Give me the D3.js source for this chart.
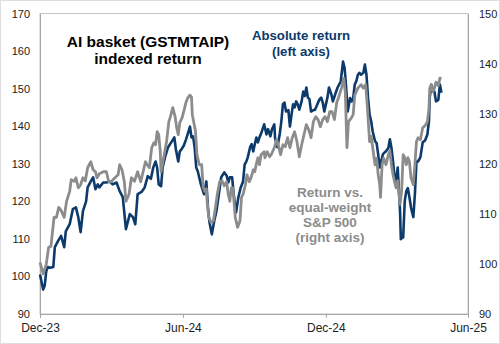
<!DOCTYPE html>
<html>
<head>
<meta charset="utf-8">
<script src="https://cdn.jsdelivr.net/npm/d3@7"></script>
<style>
  body { margin: 0; background: #fff; }
  svg { display: block; font-family: "Liberation Sans", Arial, sans-serif; }
</style>
</head>
<body>
<div id="chart"></div>
<script>
// absolute return of the AI basket, left axis
var absolute = [
  ["2023-12-01",100.5],["2023-12-03",98.5],["2023-12-05",96.5],["2023-12-07",97.5],["2023-12-09",101.4],
  ["2023-12-11",102.5],["2023-12-14",102.3],["2023-12-18",102.5],["2023-12-20",107.8],["2023-12-24",109.4],
  ["2023-12-28",110.8],["2024-01-01",107.8],["2024-01-03",112],["2024-01-08",113.9],["2024-01-12",117.9],
  ["2024-01-16",118.4],["2024-01-19",115.8],["2024-01-22",111.8],["2024-01-25",117.4],["2024-01-29",120],
  ["2024-01-31",123.7],["2024-02-04",125.3],["2024-02-07",126.4],["2024-02-10",123.2],["2024-02-13",124.5],
  ["2024-02-15",123.7],["2024-02-20",125],["2024-02-24",125],["2024-02-28",125.3],["2024-03-03",124.5],
  ["2024-03-08",125],["2024-03-12",122.7],["2024-03-16",121.1],["2024-03-20",112.6],["2024-03-25",116.6],
  ["2024-03-29",115.8],["2024-04-01",113.9],["2024-04-04",121.9],["2024-04-09",122.5],["2024-04-13",123.7],
  ["2024-04-17",126.7],["2024-04-21",126],["2024-04-24",129],["2024-04-27",130.6],["2024-04-29",129],
  ["2024-05-01",124.5],["2024-05-04",124],["2024-05-06",129],["2024-05-09",131.7],["2024-05-13",134.4],
  ["2024-05-17",135.7],["2024-05-21",137],["2024-05-23",133.8],["2024-05-26",130.6],["2024-05-28",133.3],
  ["2024-05-30",133.8],["2024-06-02",134.8],["2024-06-05",136.5],["2024-06-07",137.8],["2024-06-10",139.9],
  ["2024-06-12",137],["2024-06-14",137.3],["2024-06-16",134.4],["2024-06-18",129],["2024-06-20",128],
  ["2024-06-24",124.5],["2024-06-28",121.9],["2024-07-01",125.3],["2024-07-03",118.4],["2024-07-05",114.4],
  ["2024-07-08",111.2],["2024-07-11",114.7],["2024-07-14",117.5],["2024-07-17",121.9],["2024-07-20",126.4],
  ["2024-07-24",127.7],["2024-07-27",126.8],["2024-07-29",125],["2024-07-31",126.4],["2024-08-03",126.4],
  ["2024-08-05",121.9],["2024-08-08",117],["2024-08-11",121.1],["2024-08-14",123.7],["2024-08-17",125.3],
  ["2024-08-19",129.8],["2024-08-21",130.5],["2024-08-23",131.7],["2024-08-26",134.4],["2024-08-28",135.2],
  ["2024-08-30",133.3],["2024-09-01",135.2],["2024-09-03",137],["2024-09-05",135.7],["2024-09-07",137],
  ["2024-09-10",138.6],["2024-09-13",140.5],["2024-09-16",137.8],["2024-09-18",139.2],["2024-09-21",137.3],
  ["2024-09-23",139.2],["2024-09-26",140.5],["2024-09-27",136.8],["2024-09-30",134.4],["2024-10-03",138],
  ["2024-10-05",141.3],["2024-10-07",145.8],["2024-10-09",146.3],["2024-10-11",143.9],["2024-10-14",144.3],
  ["2024-10-16",139.9],["2024-10-18",143],["2024-10-20",145.8],["2024-10-22",145],["2024-10-24",146.6],
  ["2024-10-26",145.8],["2024-10-28",144.4],["2024-10-31",146.6],["2024-11-02",149.2],["2024-11-04",148],
  ["2024-11-06",150.3],["2024-11-08",147.6],["2024-11-10",147.2],["2024-11-12",143.9],["2024-11-15",144.3],
  ["2024-11-17",144.3],["2024-11-20",145.8],["2024-11-23",147.2],["2024-11-25",147.6],["2024-11-27",146.3],
  ["2024-11-29",143.9],["2024-12-03",147.6],["2024-12-05",150.3],["2024-12-08",148.5],["2024-12-10",146.6],
  ["2024-12-13",148.5],["2024-12-16",150.3],["2024-12-20",151.9],["2024-12-23",157.2],["2024-12-25",155.5],
  ["2024-12-27",150.3],["2024-12-29",143.9],["2025-01-01",147.5],["2025-01-03",146.6],["2025-01-05",147.5],
  ["2025-01-07",151.1],["2025-01-09",152],["2025-01-11",153.7],["2025-01-13",154.2],["2025-01-15",153.7],
  ["2025-01-18",154.2],["2025-01-20",156.4],["2025-01-22",153.7],["2025-01-24",147.6],["2025-01-26",143.1],
  ["2025-01-28",141.3],["2025-01-30",138.6],["2025-02-02",136],["2025-02-04",135.5],["2025-02-06",132.5],
  ["2025-02-08",129],["2025-02-10",130.8],["2025-02-12",132.5],["2025-02-14",133],["2025-02-16",133.3],
  ["2025-02-19",134.2],["2025-02-21",136.5],["2025-02-23",134.2],["2025-02-25",130.6],["2025-02-27",126.4],
  ["2025-03-01",125.5],["2025-03-03",129],["2025-03-06",117.4],["2025-03-07",109.9],["2025-03-09",110.4],
  ["2025-03-10",110.4],["2025-03-12",120],["2025-03-14",122.7],["2025-03-16",123.5],["2025-03-18",121.1],
  ["2025-03-20",118.4],["2025-03-23",115.8],["2025-03-25",121.9],["2025-03-27",130.6],["2025-03-29",130.6],
  ["2025-04-01",131.7],["2025-04-04",135.7],["2025-04-07",136.2],["2025-04-10",137.8],["2025-04-12",141.3],
  ["2025-04-13",147.6],["2025-04-15",151.1],["2025-04-17",149.2],["2025-04-19",149.2],["2025-04-21",146.6],
  ["2025-04-24",147],["2025-04-26",151.1],["2025-04-28",148.9]
]

// return vs equal-weight S&P 500, right axis
var relative = [
  ["2023-12-01",100.3],["2023-12-05",98],["2023-12-09",99.9],["2023-12-12",103.3],["2023-12-15",103.5],
  ["2023-12-19",109.3],["2023-12-22",109.3],["2023-12-25",111.3],["2023-12-28",110.7],["2024-01-01",109.3],
  ["2024-01-04",112.5],["2024-01-08",114.5],["2024-01-10",116.8],["2024-01-14",116.5],["2024-01-16",117.2],
  ["2024-01-19",115.2],["2024-01-22",115.8],["2024-01-25",117.2],["2024-01-28",116.6],["2024-01-31",119.2],
  ["2024-02-04",120.4],["2024-02-07",118.8],["2024-02-10",118.4],["2024-02-12",117.2],["2024-02-15",118],
  ["2024-02-20",118.4],["2024-02-24",118.4],["2024-02-27",116.4],["2024-03-01",116.4],["2024-03-06",117.2],
  ["2024-03-10",117.8],["2024-03-12",119.8],["2024-03-15",118.8],["2024-03-18",116.4],["2024-03-20",112.5],
  ["2024-03-24",113.9],["2024-03-27",117.2],["2024-03-31",116.5],["2024-04-04",118.4],["2024-04-08",116.4],
  ["2024-04-11",118.4],["2024-04-14",120.4],["2024-04-16",119.8],["2024-04-19",119.2],["2024-04-22",123.2],
  ["2024-04-25",124.2],["2024-04-27",123.8],["2024-04-29",126.4],["2024-05-01",125.8],["2024-05-03",122.4],
  ["2024-05-04",118.4],["2024-05-08",121.8],["2024-05-11",124.4],["2024-05-14",128.4],["2024-05-16",129.4],
  ["2024-05-19",131.2],["2024-05-22",129.4],["2024-05-24",127.2],["2024-05-26",125.8],["2024-05-28",128.2],
  ["2024-05-31",129.2],["2024-06-02",130.4],["2024-06-05",132.3],["2024-06-07",133.1],["2024-06-10",133.7],
  ["2024-06-12",133.3],["2024-06-13",129.8],["2024-06-15",128.2],["2024-06-17",126.6],["2024-06-19",121.8],
  ["2024-06-22",119.8],["2024-06-25",119.8],["2024-06-27",115.2],["2024-06-29",114.5],["2024-07-01",115],
  ["2024-07-02",112.5],["2024-07-04",109.3],["2024-07-07",108.3],["2024-07-10",108.6],["2024-07-12",110.5],
  ["2024-07-15",113.9],["2024-07-18",116.4],["2024-07-21",116.6],["2024-07-24",115.6],["2024-07-27",116.4],
  ["2024-07-29",113.9],["2024-07-31",112.5],["2024-08-02",115.2],["2024-08-04",115.2],["2024-08-07",109.3],
  ["2024-08-10",107.3],["2024-08-13",108.5],["2024-08-15",113.3],["2024-08-17",113.9],["2024-08-20",115.8],
  ["2024-08-22",117.8],["2024-08-25",116.4],["2024-08-27",117.1],["2024-08-30",118.8],["2024-09-01",118.4],
  ["2024-09-03",120],["2024-09-05",121.2],["2024-09-07",119.8],["2024-09-09",121.8],["2024-09-13",122.4],
  ["2024-09-14",121.2],["2024-09-17",122.4],["2024-09-20",121.4],["2024-09-22",121.8],["2024-09-26",123.2],
  ["2024-09-29",124.8],["2024-10-02",123.2],["2024-10-04",121.8],["2024-10-07",123.8],["2024-10-10",123.4],
  ["2024-10-13",125.2],["2024-10-16",123.2],["2024-10-19",125.2],["2024-10-22",126.4],["2024-10-25",124.4],
  ["2024-10-28",121.4],["2024-10-31",123.8],["2024-11-03",125.8],["2024-11-06",127.8],["2024-11-09",126.8],
  ["2024-11-12",125.2],["2024-11-15",128.4],["2024-11-18",129.4],["2024-11-21",128.8],["2024-11-24",127.4],
  ["2024-11-27",128.8],["2024-11-30",129.4],["2024-12-03",128.4],["2024-12-06",130.4],["2024-12-09",130.4],
  ["2024-12-12",128.8],["2024-12-15",132.3],["2024-12-17",133.1],["2024-12-21",135.1],["2024-12-24",137.1],
  ["2024-12-26",134],["2024-12-28",123.2],["2024-12-30",128.4],["2025-01-02",129],["2025-01-05",129.8],
  ["2025-01-07",133.7],["2025-01-09",134.4],["2025-01-11",135.1],["2025-01-15",135.8],["2025-01-18",135.1],
  ["2025-01-21",135.8],["2025-01-23",131.7],["2025-01-26",124.4],["2025-01-28",125.5],["2025-01-30",123.2],
  ["2025-02-02",119.8],["2025-02-04",121.1],["2025-02-06",117.8],["2025-02-08",115.8],["2025-02-09",113.3],
  ["2025-02-11",119.8],["2025-02-13",121.1],["2025-02-16",119.8],["2025-02-19",121.8],["2025-02-21",122.6],
  ["2025-02-23",119.8],["2025-02-25",117.8],["2025-02-27",116.4],["2025-03-01",115.2],["2025-03-03",116.6],
  ["2025-03-06",111.9],["2025-03-08",114.5],["2025-03-10",121.8],["2025-03-12",121.2],["2025-03-14",119.8],
  ["2025-03-16",121.2],["2025-03-18",120.4],["2025-03-20",117.2],["2025-03-23",115.8],["2025-03-25",119.8],
  ["2025-03-27",124.4],["2025-03-29",125.2],["2025-04-01",124.8],["2025-04-04",127.2],["2025-04-07",127.6],
  ["2025-04-10",128.4],["2025-04-12",131],["2025-04-13",135.1],["2025-04-15",135.8],["2025-04-17",134.4],
  ["2025-04-19",135.1],["2025-04-21",136.3],["2025-04-24",135.6],["2025-04-26",137.1],["2025-04-28",137]
]

var leftTicks = [90,100,110,120,130,140,150,160,170]
var rightTicks = [90,100,110,120,130,140,150]
var dateTicks = ["2023-12-01","2024-06-01","2024-12-01","2025-06-01"]
var title = ["AI basket (GSTMTAIP)", "indexed return"]
var absLabel = ["Absolute return", "(left axis)"]
var relLabel = ["Return vs.", "equal-weight", "S&P 500", "(right axis)"]

var screen = {width: 500, height: 344}
var margin = {top: 13.5, right: 32, bottom: 30, left: 40}
var blue = "#0c3a6b", grey = "#8c8c8c"
var parse = d3.utcParse("%Y-%m-%d")

var xScale = d3.scaleUtc()
    .domain([parse(dateTicks[0]), parse(dateTicks[3])])
    .range([margin.left, screen.width - margin.right])
var yLeft = d3.scaleLinear()
    .domain([90, 170])
    .range([screen.height - margin.bottom, margin.top])
var yRight = d3.scaleLinear()
    .domain([90, 150])
    .range([screen.height - margin.bottom, margin.top])

var svg = d3.select("#chart").append("svg")
    .attr("width", screen.width)
    .attr("height", screen.height)

// outer border and plot frame
svg.append("rect")
    .attr("x", 0.5).attr("y", 0.5)
    .attr("width", screen.width - 1).attr("height", screen.height - 1)
    .style("fill", "none").style("stroke", "#dedede")
svg.append("rect")
    .attr("x", margin.left).attr("y", margin.top)
    .attr("width", xScale.range()[1] - margin.left)
    .attr("height", yLeft.range()[0] - margin.top)
    .style("fill", "none").style("stroke", "#c4c4c4")

// axes
var gLeft = svg.append("g")
    .attr("transform", "translate(" + margin.left + ",0)")
    .call(d3.axisLeft(yLeft).tickValues(leftTicks).tickSize(0).tickPadding(10))
var gRight = svg.append("g")
    .attr("transform", "translate(" + xScale.range()[1] + ",0)")
    .call(d3.axisRight(yRight).tickValues(rightTicks).tickSize(0).tickPadding(11))
var gBottom = svg.append("g")
    .attr("transform", "translate(0," + yLeft.range()[0] + ")")
    .call(d3.axisBottom(xScale).tickValues(dateTicks.map(parse)).tickSize(4).tickPadding(5)
      .tickFormat(d3.utcFormat("%b-%y")))

;[gLeft, gRight, gBottom].forEach(function(g) {
  g.select(".domain").style("stroke", "#a6a6a6")
  g.selectAll(".tick line").style("stroke", "#a6a6a6")
  g.selectAll("text").style("fill", "#222").style("font-family", "Liberation Sans, Arial, sans-serif")
})
gLeft.selectAll("text").style("font-size", "11px")
gRight.selectAll("text").style("font-size", "11px")
gBottom.selectAll("text").style("font-size", "12px")

// lines
var absLine = d3.line()
    .x(function(d) { return xScale(parse(d[0])) })
    .y(function(d) { return yLeft(d[1]) })
var relLine = d3.line()
    .x(function(d) { return xScale(parse(d[0])) })
    .y(function(d) { return yRight(d[1]) })

svg.append("path")
    .attr("d", absLine(absolute))
    .style("fill", "none").style("stroke", blue)
    .attr("stroke-width", 2.6).attr("stroke-linejoin", "round")
svg.append("path")
    .attr("d", relLine(relative))
    .style("fill", "none").style("stroke", grey)
    .attr("stroke-width", 2.8).attr("stroke-linejoin", "round")

// text blocks
function block(lines, x, y, step, size, color) {
  svg.append("text")
    .attr("text-anchor", "middle")
    .style("font-size", size + "px")
    .style("font-weight", "bold")
    .style("fill", color)
    .selectAll("tspan")
    .data(lines)
    .enter()
    .append("tspan")
    .attr("x", x)
    .attr("y", function(d, i) { return y + i * step })
    .text(function(d) { return d })
}
block(title, 148, 47, 17, 15.5, "#000")
block(absLabel, 301, 40, 15.5, 13.2, blue)
block(relLabel, 330, 197, 15, 13.5, grey)
</script>
</body>
</html>
